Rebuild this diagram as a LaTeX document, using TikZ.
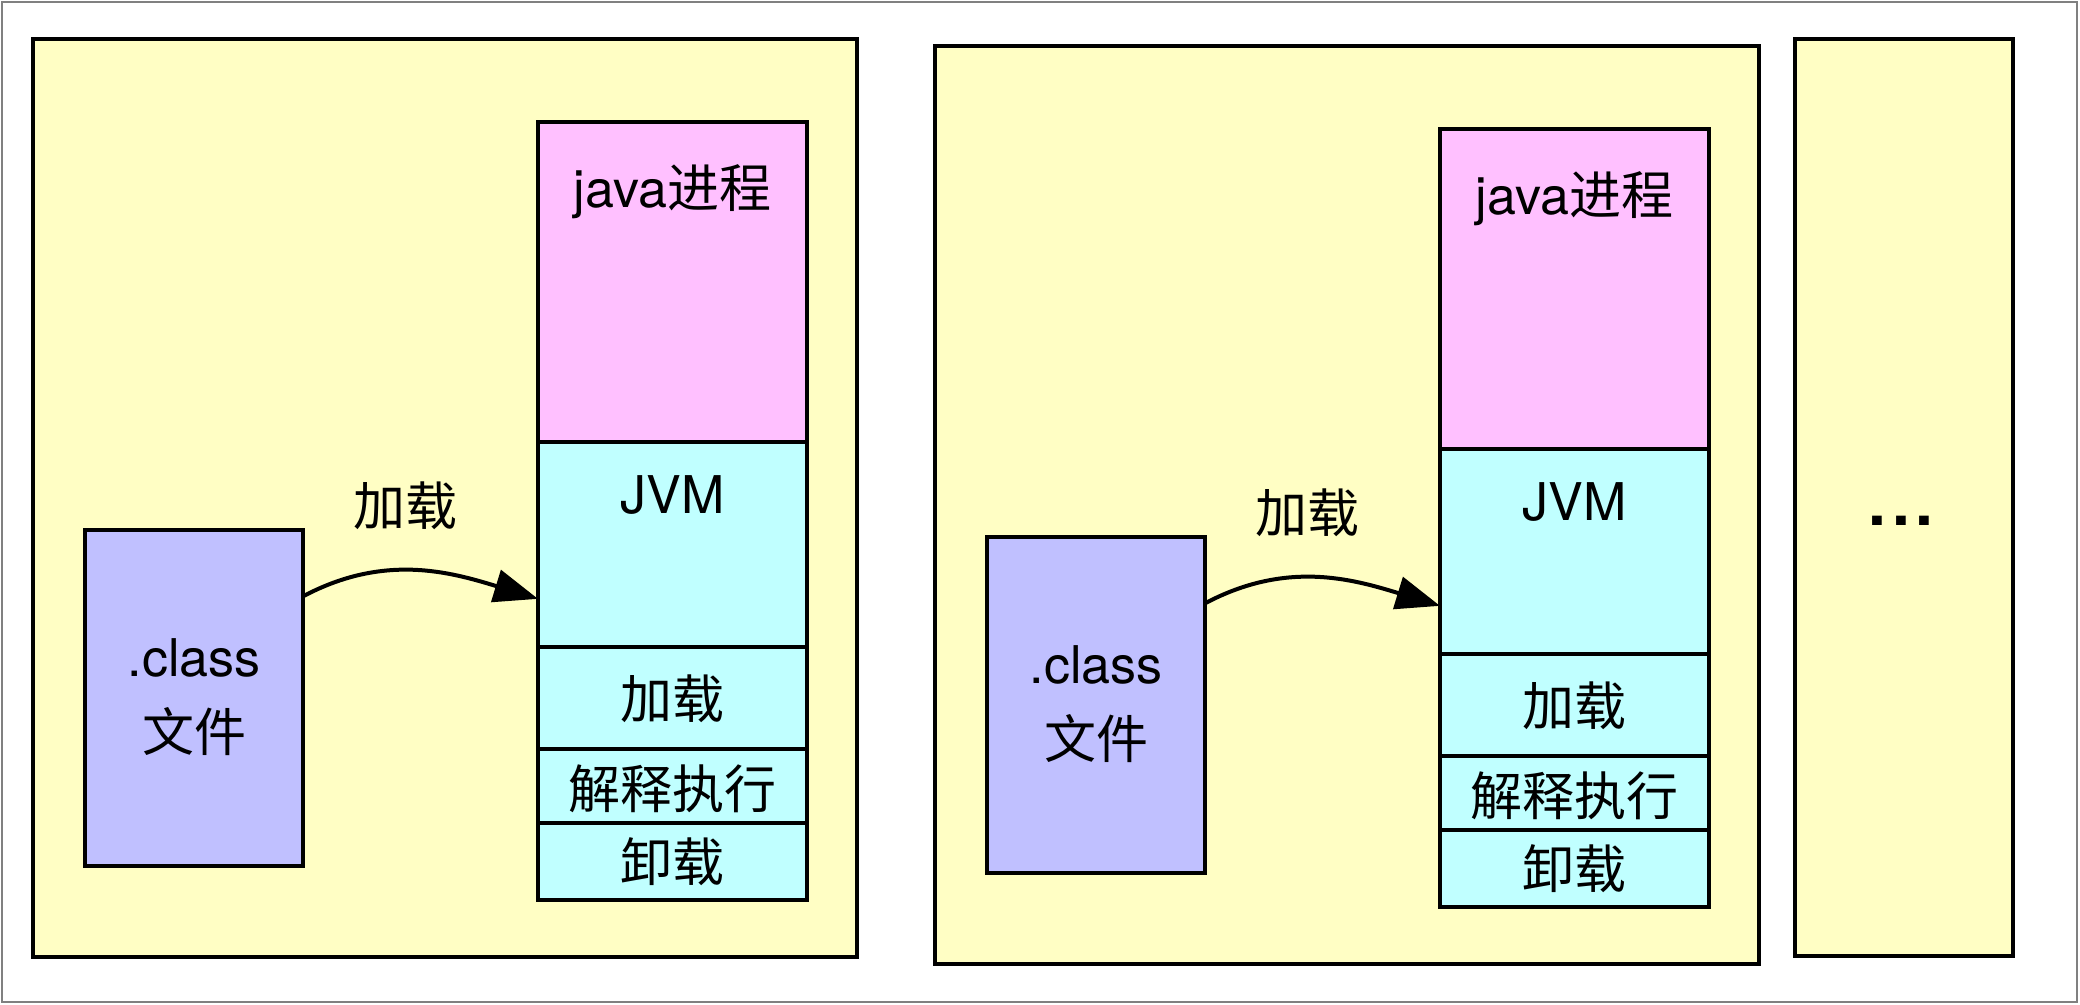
\documentclass[tikz,border=0pt]{standalone}
\usepackage{fontspec}
\setmainfont{TeX Gyre Heros}
\newfontfamily\cjk{Noto Sans CJK SC}
\usetikzlibrary{arrows.meta}
\definecolor{ybg}{RGB}{255,254,196}
\definecolor{pinkc}{RGB}{255,192,255}
\definecolor{cyanc}{RGB}{192,255,255}
\definecolor{lavc}{RGB}{192,192,255}
\definecolor{framec}{RGB}{128,128,128}
\begin{document}
\begin{tikzpicture}[x=1pt,y=1pt,
  blk/.style={draw=black, line width=3.5pt, inner sep=0pt, outer sep=0pt},
  txt/.style={inner sep=0pt, outer sep=0pt, anchor=base, font=\fontsize{52}{62}\selectfont},
  conn/.style={line width=4pt, -{Triangle[length=44pt,width=33pt]}}]
\useasboundingbox (0,0) rectangle (2080,-1004);
\fill[white] (0,0) rectangle (2080,-1004);
\draw[framec, line width=2pt] (2,-2) rectangle (2077,-1002);
\foreach \p/\dx/\dy in {1/0/0,2/902/-7}{
\begin{scope}[shift={(\dx,\dy)}]
  \node[blk, fill=ybg, minimum width=824pt, minimum height=918pt] (yel\p) at (445,-498) {};
  \node[blk, fill=pinkc, minimum width=269pt, minimum height=320pt] (pink\p) at (672.5,-282) {};
  \node[blk, fill=cyanc, minimum width=269pt, minimum height=205pt] (jvm\p) at (672.5,-544.5) {};
  \node[blk, fill=cyanc, minimum width=269pt, minimum height=102pt] (load\p) at (672.5,-698) {};
  \node[blk, fill=cyanc, minimum width=269pt, minimum height=74pt] (exec\p) at (672.5,-786) {};
  \node[blk, fill=cyanc, minimum width=269pt, minimum height=77pt] (unl\p) at (672.5,-861.5) {};
  \node[blk, fill=lavc, minimum width=218pt, minimum height=336pt] (cls\p) at (194,-698) {};
  \node[txt] (tjava\p) at (672.5,-207) {java{\cjk 进程}};
  \node[txt] (tjvm\p) at (672.5,-513) {JVM};
  \node[txt] (tload\p) at (672.5,-718) {\cjk 加载};
  \node[txt] (texec\p) at (672.5,-808) {\cjk 解释执行};
  \node[txt] (tunl\p) at (672.5,-881) {\cjk 卸载};
  \node[txt] (tcls\p) at (194,-676) {.class};
  \node[txt] (tfile\p) at (194,-751) {\cjk 文件};
  \node[txt] (tarr\p) at (405,-525) {\cjk 加载};
  \draw[conn] (cls\p.43) to[out=28,in=163] (jvm\p.202);
\end{scope}
}
\node[blk, fill=ybg, minimum width=218pt, minimum height=917pt] (more) at (1904,-497.5) {};
\node[txt, font=\fontsize{64}{70}\selectfont\bfseries] (dots) at (1901,-525) {.\kern5.5pt.\kern5.5pt.};
\end{tikzpicture}
\end{document}
